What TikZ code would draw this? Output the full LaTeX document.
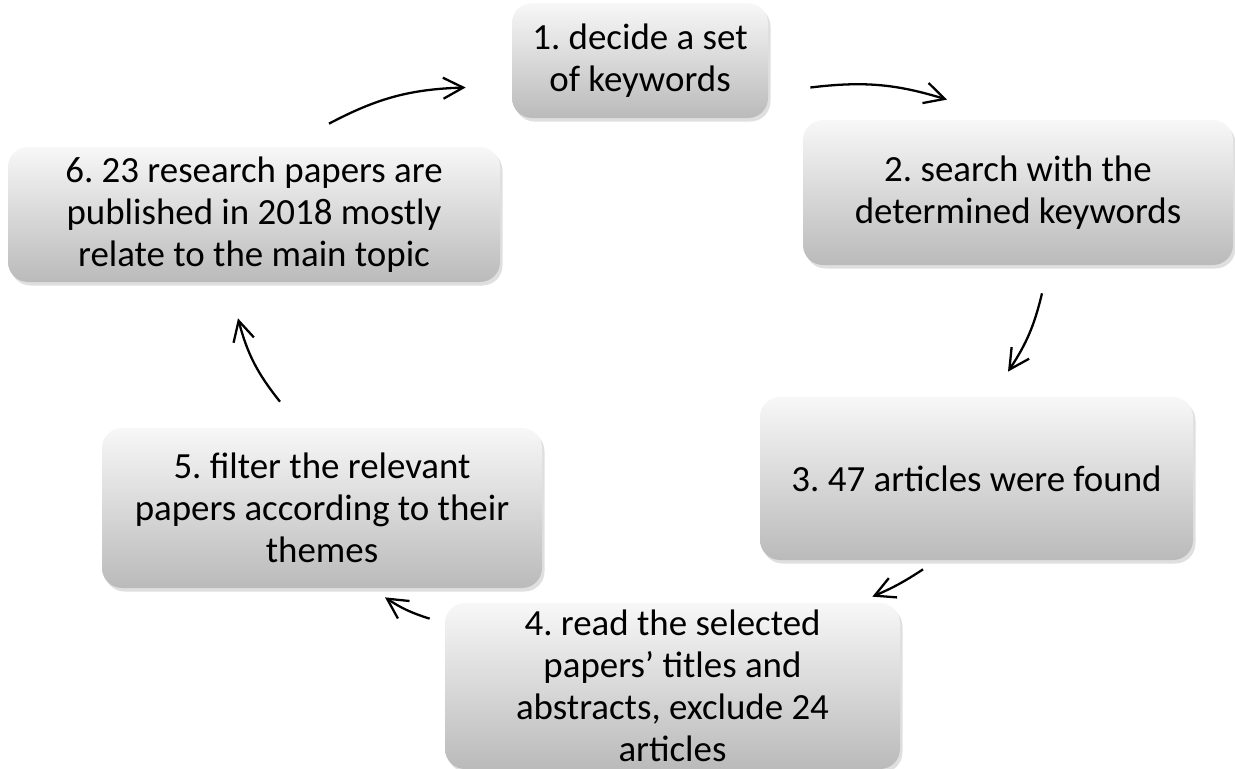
\documentclass[tikz,border=0pt]{standalone}
\usepackage{fontspec}
\setmainfont{Carlito}
\usepackage{tikz}
\usetikzlibrary{arrows.meta,positioning,shadows}
\frenchspacing
\tikzset{%
	stepbox/.style = {rectangle, rounded corners=0.4cm, align=center, text centered,
		top color=black!3, middle color=black!8, bottom color=black!27,
		drop shadow={opacity=0.25, shadow xshift=0.05cm, shadow yshift=-0.07cm},
		font=\fontsize{21}{24}\selectfont, inner sep=0pt},
	arrow/.style   = {line width=1.3pt, -{Straight Barb[length=0.4cm,width=0.42cm]}},
}

\begin{document}
\begin{tikzpicture}[on grid]
	\useasboundingbox (0,0) rectangle (24.7,-15.38);
	\node [stepbox,minimum width=5.12cm,minimum height=2.3cm] (s1) at (12.8,-1.21) {1. decide a set\\of keywords};
	\node [stepbox,minimum width=8.6cm,minimum height=2.9cm] (s2) [below right=2.64cm and 7.56cm of s1] {2. search with the\\determined keywords};
	\node [stepbox,minimum width=8.66cm,minimum height=3.26cm] (s3) [below left=5.72cm and 0.83cm of s2] {3. 47 articles were found};
	\node [stepbox,minimum width=9.1cm,minimum height=3.32cm] (s4) [below left=4.15cm and 6.08cm of s3] {4. read the selected\\papers’ titles and\\abstracts, exclude 24\\articles};
	\node [stepbox,minimum width=8.8cm,minimum height=3.2cm] (s5) [above left=3.56cm and 7.01cm of s4] {5. filter the relevant\\papers according to their\\themes};
	\node [stepbox,minimum width=9.84cm,minimum height=2.7cm] (s6) [above left=5.87cm and 1.36cm of s5] {6. 23 research papers are\\published in 2018 mostly\\relate to the main topic};

	\draw[arrow] ([shift={(0.84,-0.54)}]s1.east) to[bend left=12] ([shift={(-1.42,0.4)}]s2.north);
	\draw[arrow] ([shift={(0.48,-0.56)}]s2.south) to[bend left=10] ([shift={(0.63,0.5)}]s3.north);
	\draw[arrow] ([shift={(-1.07,-0.18)}]s3.south) to[bend left=5] ([shift={(-0.56,0.12)}]s4.north east);
	\draw[arrow] ([shift={(-0.3,-0.32)}]s4.north west) to[bend left=8] ([shift={(1.26,-0.18)}]s5.south);
	\draw[arrow] ([shift={(-0.84,0.52)}]s5.north) to[bend left=12] ([shift={(-0.32,-0.72)}]s6.south);
	\draw[arrow] ([shift={(1.5,0.46)}]s6.north) to[bend left=13] ([shift={(-0.92,-0.54)}]s1.west);
\end{tikzpicture}
\end{document}
